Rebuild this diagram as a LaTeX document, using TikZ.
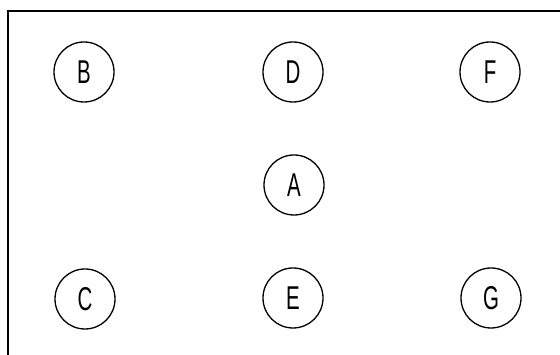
\documentclass[tikz,border=0pt]{standalone}
\usepackage{fontspec}
\setmainfont{Liberation Sans}
\begin{document}
\begin{tikzpicture}[x=1pt,y=1pt,
  vert/.style={circle,draw,line width=1.3pt,minimum size=60pt,inner sep=0pt,
    font=\fontsize{33}{33}\selectfont},
  frameline/.style={line width=1.4pt}]
\useasboundingbox (0,0) rectangle (560,355);
\draw[frameline] (8,0) -- (8,344) -- (560,344);
\newcommand{\lbl}[1]{\scalebox{0.62}[1]{#1}}
\node[vert] (B) at (84,283) {\lbl{B}};
\node[vert] (D) at (293,283) {\lbl{D}};
\node[vert] (F) at (490,283) {\lbl{F}};
\node[vert] (A) at (294,170) {\lbl{A}};
\node[vert] (C) at (85,56) {\lbl{C}};
\node[vert] (E) at (293,57) {\lbl{E}};
\node[vert] (G) at (491,57) {\lbl{G}};
\end{tikzpicture}
\end{document}
